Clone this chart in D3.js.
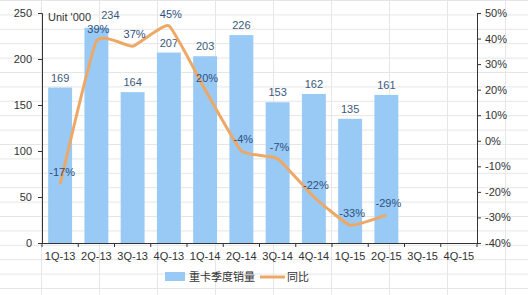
<!DOCTYPE html>
<html>
<head>
<meta charset="UTF-8">
<script src="https://cdn.jsdelivr.net/npm/d3@7"></script>
<style>
  body { margin: 0; background: #fff; }
  text { font-family: Arial, "Liberation Sans", "Noto Sans CJK SC", sans-serif; }
</style>
</head>
<body>
<script>
// data
var quarters = ["1Q-13","2Q-13","3Q-13","4Q-13","1Q-14","2Q-14","3Q-14","4Q-14","1Q-15","2Q-15","3Q-15","4Q-15"];
var sales = [169, 234, 164, 207, 203, 226, 153, 162, 135, 161];
var yoy = [-17, 39, 37, 45, 20, -4, -7, -22, -33, -29];
var leftTicks = [0, 50, 100, 150, 200, 250];
var rightTicks = [-40, -30, -20, -10, 0, 10, 20, 30, 40, 50];

var W = 528, H = 295;
var svg = d3.select("body").append("svg").attr("width", W).attr("height", H);

// faint sheet grid in background
var bg = svg.append("g");
d3.range(0, H, 14.4).forEach(function (y) {
  bg.append("line").attr("x1", 0).attr("x2", W).attr("y1", y + 0.5).attr("y2", y + 0.5)
    .attr("stroke", "#e6e6e6");
});
d3.range(41, W, 58).forEach(function (x) {
  bg.append("line").attr("x1", x + 0.5).attr("x2", x + 0.5).attr("y1", 0).attr("y2", H)
    .attr("stroke", "#e6e6e6");
});

var x = d3.scaleBand().domain(quarters).range([42, 477]).paddingInner(0.34).paddingOuter(0.17);
var yL = d3.scaleLinear().domain([0, 250]).range([243, 13]);
var yR = d3.scaleLinear().domain([-40, 50]).range([243, 13]);

// bars
svg.selectAll("rect.bar").data(sales).enter().append("rect")
  .attr("class", "bar")
  .attr("x", function (d, i) { return x(quarters[i]); })
  .attr("y", function (d) { return yL(d); })
  .attr("width", x.bandwidth())
  .attr("height", function (d) { return yL(0) - yL(d); })
  .attr("fill", "#99c9f5");

// bar labels; the tallest one is nudged right as in the original
svg.selectAll("text.barlab").data(sales).enter().append("text")
  .attr("x", function (d, i) { return x(quarters[i]) + x.bandwidth() / 2 + (d === d3.max(sales) ? 14 : 0); })
  .attr("y", function (d) { return yL(d) - (d === d3.max(sales) ? 9 : 6); })
  .attr("text-anchor", "middle")
  .attr("font-size", 11)
  .attr("fill", "#3c5a7c")
  .text(function (d) { return d; });

// left axis
var axL = svg.append("g").attr("transform", "translate(42,0)")
  .call(d3.axisLeft(yL).tickValues(leftTicks).tickSize(4).tickPadding(6));
// right axis
var axR = svg.append("g").attr("transform", "translate(477,0)")
  .call(d3.axisRight(yR).tickValues(rightTicks).tickSize(4).tickPadding(4)
    .tickFormat(function (d) { return d + "%"; }));
// bottom axis with ticks on category boundaries
var axB = svg.append("g").attr("transform", "translate(0,243)")
  .call(d3.axisBottom(x).tickSize(0).tickPadding(9));
var step = x.step();
axB.selectAll("line.bnd").data(d3.range(quarters.length + 1)).enter().append("line")
  .attr("class", "bnd")
  .attr("x1", function (i) { return 42 + i * step; })
  .attr("x2", function (i) { return 42 + i * step; })
  .attr("y1", 0).attr("y2", 4)
  .attr("stroke", "#333");
[axL, axR, axB].forEach(function (g) {
  g.selectAll("path.domain").attr("stroke", "#333");
  g.selectAll(".tick line").attr("stroke", "#333");
  g.selectAll("text").attr("font-size", 11).attr("fill", "#333")
    .attr("font-family", "Arial, 'Liberation Sans', sans-serif");
});

// line
var line = d3.line()
  .x(function (d, i) { return x(quarters[i]) + x.bandwidth() / 2; })
  .y(function (d) { return yR(d); })
  .curve(d3.curveCardinal.tension(0.6));
svg.append("path").datum(yoy)
  .attr("d", line)
  .attr("fill", "none")
  .attr("stroke", "#eda865")
  .attr("stroke-width", 3)
  .attr("stroke-linejoin", "round");

svg.selectAll("text.yoylab").data(yoy).enter().append("text")
  .attr("x", function (d, i) { return x(quarters[i]) + x.bandwidth() / 2 + 2; })
  .attr("y", function (d) { return yR(d) - 8; })
  .attr("text-anchor", "middle")
  .attr("font-size", 11)
  .attr("fill", "#2f5080")
  .text(function (d) { return d + "%"; });

// unit note
svg.append("text").attr("x", 48).attr("y", 21).attr("font-size", 11).attr("fill", "#333")
  .text("Unit '000");

// legend
var lg = svg.append("g");
lg.append("rect").attr("x", 165).attr("y", 272).attr("width", 20).attr("height", 9).attr("fill", "#99c9f5");
lg.append("text").attr("x", 189).attr("y", 281).attr("font-size", 11).attr("fill", "#333").text("重卡季度销量");
lg.append("line").attr("x1", 260).attr("x2", 285).attr("y1", 277).attr("y2", 277)
  .attr("stroke", "#eda865").attr("stroke-width", 3);
lg.append("text").attr("x", 287).attr("y", 281).attr("font-size", 11).attr("fill", "#333").text("同比");
</script>
</body>
</html>
